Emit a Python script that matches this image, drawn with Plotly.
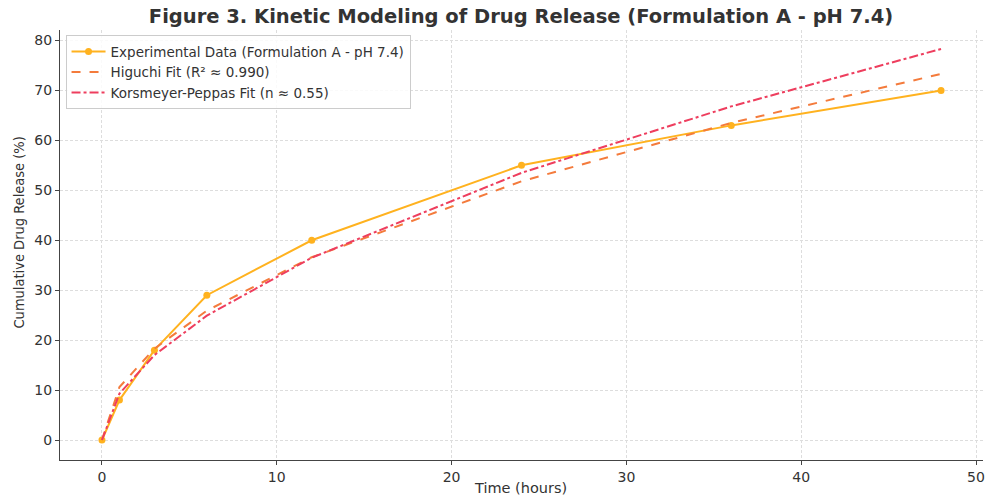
import plotly.graph_objects as go

time_h = [0, 1, 3, 6, 12, 24, 36, 48]
experimental = [0, 8, 18, 29, 40, 55, 63, 70]
higuchi = [0, 10.6, 18.3, 25.9, 36.6, 51.8, 63.5, 73.3]
peppas = [0, 9.3, 17.0, 24.9, 36.5, 53.5, 66.8, 78.3]
x_ticks = [0, 10, 20, 30, 40, 50]
y_ticks = [0, 10, 20, 30, 40, 50, 60, 70, 80]

fig = go.Figure()
fig.add_trace(go.Scatter(
    x=time_h, y=experimental, mode="lines+markers",
    name="Experimental Data (Formulation A - pH 7.4)",
    line=dict(color="#FFB21F", width=2), marker=dict(size=7, color="#FFB21F")))
fig.add_trace(go.Scatter(
    x=time_h, y=higuchi, mode="lines", name="Higuchi Fit (R² ≈ 0.990)",
    line=dict(color="#F47B3C", width=2, dash="dash")))
fig.add_trace(go.Scatter(
    x=time_h, y=peppas, mode="lines", name="Korsmeyer-Peppas Fit (n ≈ 0.55)",
    line=dict(color="#EE3E5E", width=2, dash="dashdot")))

axis_common = dict(
    showgrid=True, gridcolor="#DDDDDD", griddash="3px,2px", gridwidth=1,
    zeroline=False, showline=True, linecolor="#444444", linewidth=1.3,
    ticks="outside", ticklen=4, tickcolor="#444444", automargin=False,
    tickfont=dict(family="DejaVu Sans", size=14, color="#333333"),
)

fig.update_layout(
    width=986, height=497,
    paper_bgcolor="white", plot_bgcolor="white",
    margin=dict(l=60, r=3, t=30, b=37, autoexpand=False),
    title=dict(text="<b>Figure 3. Kinetic Modeling of Drug Release (Formulation A - pH 7.4)</b>",
               x=521 / 986, xanchor="center", y=1 - 16 / 497, yanchor="middle",
               font=dict(family="DejaVu Sans", size=19.5, color="#333333")),
    xaxis=dict(range=[-2.4, 50.4], tickvals=x_ticks, **axis_common),
    yaxis=dict(range=[-4, 82.1], tickvals=y_ticks, **axis_common),
    legend=dict(x=0.006, y=0.988, xanchor="left", yanchor="top",
                bgcolor="rgba(255,255,255,0.85)", bordercolor="#CCCCCC", borderwidth=1,
                font=dict(family="DejaVu Sans", size=13.5, color="#333333"),
                tracegroupgap=0, itemwidth=34),
    showlegend=True,
    annotations=[
        dict(text="Time (hours)", xref="paper", yref="paper",
             x=(520 - 60) / 923, y=-(488 - 460) / 430, xanchor="center", yanchor="middle",
             showarrow=False, font=dict(family="DejaVu Sans", size=14.5, color="#333333")),
        dict(text="Cumulative Drug Release (%)", xref="paper", yref="paper",
             x=-(60 - 18.5) / 923, y=(460 - 233) / 430, xanchor="center", yanchor="middle",
             textangle=-90, showarrow=False,
             font=dict(family="DejaVu Sans Condensed, DejaVu Sans", size=14.5, color="#333333")),
    ],
)

fig.write_html("out.html", config={"displayModeBar": False},
               post_script="document.body.style.margin='0';")
